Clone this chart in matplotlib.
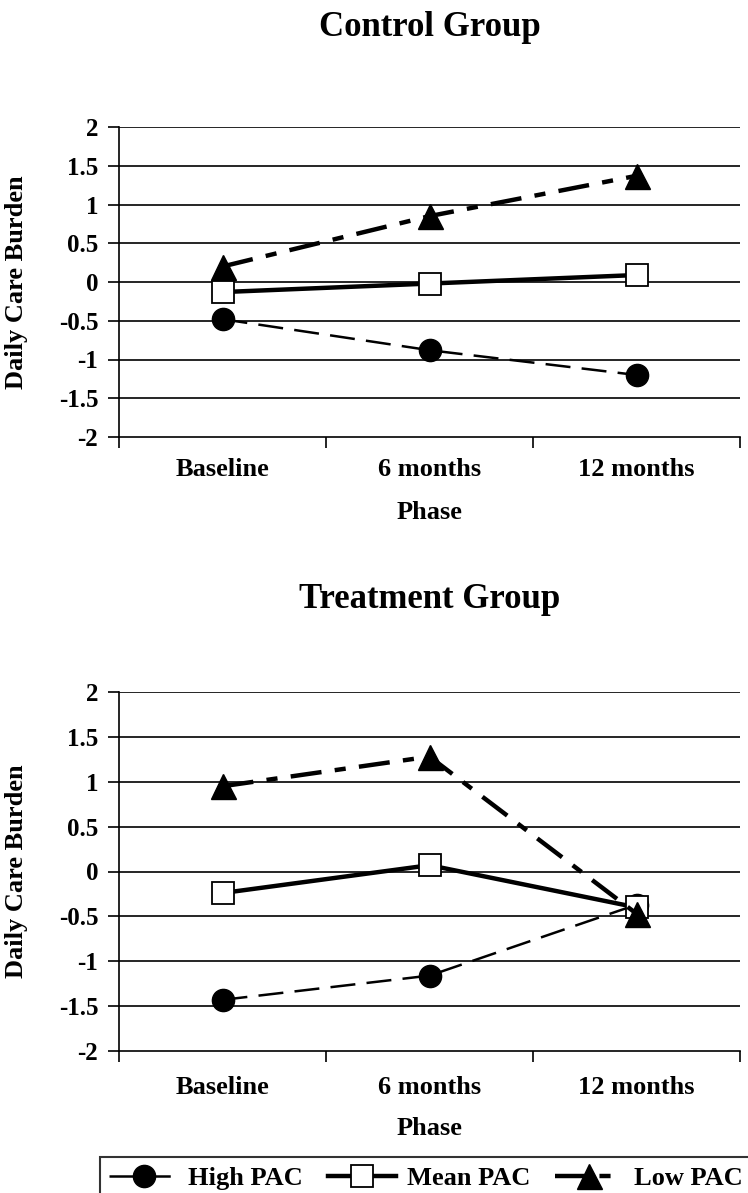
import numpy as np
import matplotlib
matplotlib.use('Agg')
from matplotlib import pyplot as plt
from matplotlib.lines import Line2D

plt.rcParams['font.family'] = 'Liberation Serif'
plt.rcParams['font.weight'] = 'bold'
plt.rcParams['axes.labelweight'] = 'bold'

# phases on the x axis
phases = ['Baseline', '6 months', '12 months']

# daily care burden, control group
control_high = [-0.48, -0.88, -1.20]
control_mean = [-0.13, -0.02, 0.09]
control_low = [0.20, 0.85, 1.37]

# daily care burden, treatment group
treat_high = [-1.43, -1.16, -0.37]
treat_mean = [-0.24, 0.07, -0.40]
treat_low = [0.95, 1.28, -0.47]

y_ticks = [-2, -1.5, -1, -0.5, 0, 0.5, 1, 1.5, 2]
y_ticklabels = ['-2', '-1.5', '-1', '-0.5', '0', '0.5', '1', '1.5', '2']

# line styles for the three PAC groups
high_style = dict(color='black', lw=1.8, linestyle=(0, (10, 4.5)),
                  marker='o', ms=16, mfc='black', mec='black')
mean_style = dict(color='black', lw=3.2, linestyle='-',
                  marker='s', ms=16, mfc='white', mec='black', mew=1.3)
low_style = dict(color='black', lw=3.2, linestyle=(0, (7, 3, 2.5, 3)),
                 marker='^', ms=18, mfc='black', mec='black')

W, H = 748, 1193
fig = plt.figure(figsize=(W / 100, H / 100), dpi=100)


def make_panel(rect, title, title_y, high, mean, low, phase_y, tick_pad):
    ax = fig.add_axes(rect)
    x = np.arange(len(phases))
    ax.plot(x, high, **high_style, zorder=3)
    ax.plot(x, mean, **mean_style, zorder=4)
    ax.plot(x, low, **low_style, zorder=5)

    ax.set_xlim(-0.5, len(phases) - 0.5)
    ax.set_ylim(-2, 2)
    ax.set_yticks(y_ticks)
    ax.set_yticklabels(y_ticklabels, fontsize=18)
    for y in y_ticks[1:]:
        ax.axhline(y, color='black', lw=1.2, zorder=1)

    # category labels in the middle, tick marks on the boundaries
    ax.set_xticks(x)
    ax.set_xticklabels(phases, fontsize=19)
    ax.tick_params(axis='x', which='major', length=0, pad=tick_pad)
    ax.set_xticks(np.arange(-0.5, len(phases)), minor=True)
    ax.tick_params(axis='x', which='minor', length=8, width=1.2, direction='out')
    ax.tick_params(axis='y', length=8, width=1.2, pad=7, direction='out')

    for s in ['top', 'right']:
        ax.spines[s].set_visible(False)
    for s in ['left', 'bottom']:
        ax.spines[s].set_linewidth(1.2)

    ax.set_ylabel('Daily Care Burden', fontsize=19)
    ax.yaxis.set_label_coords(-0.147, 0.5)
    ax.set_xlabel('Phase', fontsize=19)
    ax.xaxis.set_label_coords(0.5, phase_y)

    fig.text(rect[0] + rect[2] / 2, title_y, title, fontsize=25,
             ha='center', va='center')
    return ax


ax1 = make_panel([119 / W, 1 - 437 / H, 621 / W, 310 / H],
                 'Control Group', 1 - 28 / H,
                 control_high, control_mean, control_low, -0.205, 15)
ax2 = make_panel([119 / W, 1 - 1051 / H, 621 / W, 359 / H],
                 'Treatment Group', 1 - 599 / H,
                 treat_high, treat_mean, treat_low, -0.185, 18)

# shared legend at the bottom, frame running to the right edge
handles = [Line2D([], [], **high_style),
           Line2D([], [], **mean_style),
           Line2D([], [], **low_style)]
leg = fig.legend(handles, ['High PAC', 'Mean PAC', 'Low PAC'],
                 loc='lower left', bbox_to_anchor=(100 / W, -6 / H, 652 / W, 0.04),
                 mode='expand', ncol=3, fontsize=19, frameon=True, fancybox=False,
                 handlelength=2.6, handletextpad=0.4, columnspacing=0.3,
                 borderpad=0.35, borderaxespad=0)
leg.get_frame().set_edgecolor('black')
leg.get_frame().set_linewidth(1.5)

plt.savefig('out.png', dpi=100)
